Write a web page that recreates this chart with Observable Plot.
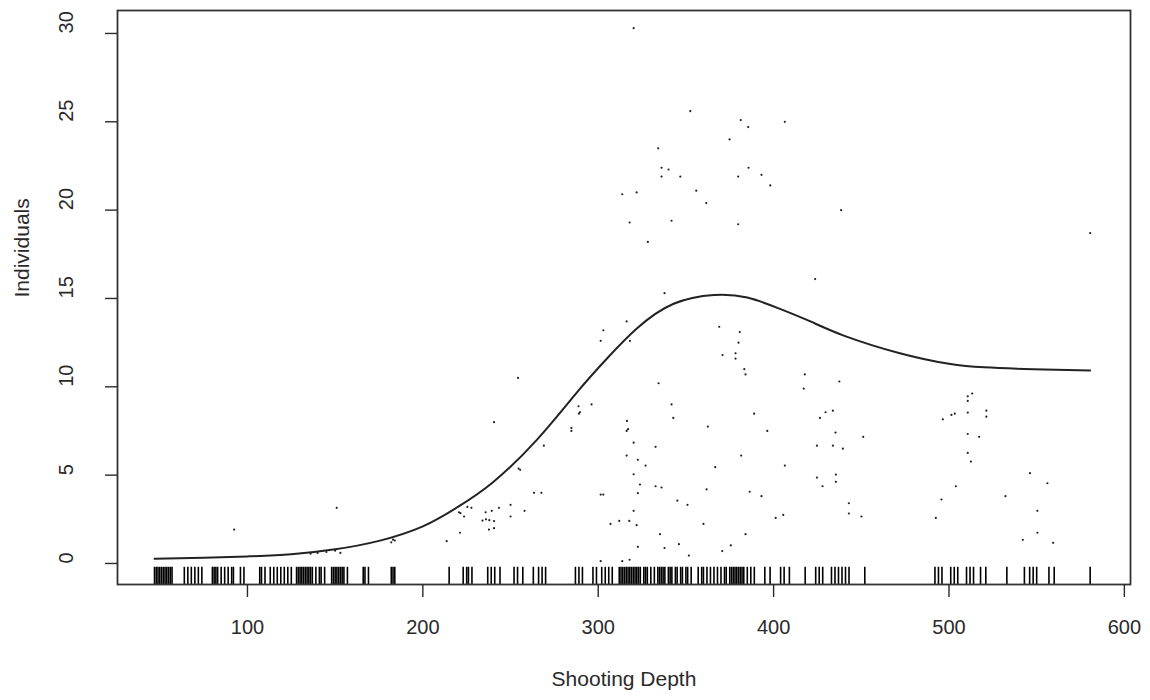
<!DOCTYPE html>
<html>
<head>
<meta charset="utf-8">
<script src="https://cdn.jsdelivr.net/npm/d3@7"></script>
<script src="https://cdn.jsdelivr.net/npm/@observablehq/plot@0.6"></script>
<style>
  html, body { margin: 0; padding: 0; background: #fff; }
  #chart { width: 1150px; height: 700px; }
</style>
</head>
<body>
<div id="chart"></div>
<script>
// Axis ticks and titles
const xTicks = [100, 200, 300, 400, 500, 600];
const yTicks = [0, 5, 10, 15, 20, 25, 30];
const xTitle = "Shooting Depth";
const yTitle = "Individuals";

// Observed points (depth, individuals)
const pointX = [320.2,352.5,381.3,385.5,406.4,374.9,334.2,336.1,340.1,336.1,346.8,379.8,385.7,393.1,398.1,313.7,321.9,355.9,361.6,317.9,341.8,379.8,328.3,438.5,580.5,423.7,337.8,
 316.2,302.9,301.4,318.1,369.0,380.7,380.0,370.9,378.3,378.3,383.3,384.0,417.8,417.2,334.4,437.5,254.3,288.8,289.6,289.0,296.2,341.8,342.8,388.9,284.7,284.7,316.4,316.2,317.0,362.5,396.4,240.6,269.0,320.2,332.7,316.2,322.6,327.0,381.5,366.7,406.4,320.2,323.8,322.6,332.7,336.1,361.8,386.4,393.1,345.1,350.9,301.4,302.9,320.2,307.0,312.0,317.7,321.9,360.0,401.2,405.5,335.2,384.0,322.6,337.8,346.0,351.7,370.7,375.6,301.4,313.7,317.9,
 263.4,267.6,254.6,255.5,258.0,250.0,250.0,243.4,240.6,240.6,237.7,235.8,239.3,234.0,236.0,237.9,225.4,227.7,223.5,220.6,221.4,221.2,213.6,92.4,150.9,182,183,184,136,140,145,150,153,
 426.4,429.6,433.8,435.3,451.1,424.7,433.8,439.5,424.7,427.9,435.5,435.5,442.9,442.9,450.1,496.5,501.4,503.3,510.7,513.2,510.7,510.7,521.3,521.3,510.7,517.2,510.7,512.5,503.9,495.7,492.5,532.2,546.2,556.1,550.4,550.4,542.1,559.4];
const pointY = [30.3,25.6,25.1,24.7,25.0,24.0,23.5,22.4,22.3,21.9,21.9,21.9,22.4,22.0,21.4,20.9,21.0,21.1,20.4,19.3,19.4,19.2,18.2,20.0,18.7,16.1,15.3,
 13.7,13.2,12.6,12.6,13.4,13.1,12.5,11.8,11.9,11.6,11.0,10.7,10.7,9.9,10.2,10.3,10.5,8.9,8.56,8.48,9.0,9.0,8.24,8.48,7.67,7.5,8.07,7.5,7.6,7.75,7.5,8.0,6.67,6.84,6.6,6.11,5.87,5.54,6.11,5.45,5.54,5.05,4.47,3.98,4.37,4.3,4.2,4.06,3.81,3.56,3.32,3.9,3.9,2.98,2.24,2.41,2.41,2.17,2.24,2.58,2.75,1.66,1.66,0.94,0.87,1.09,0.45,0.70,1.02,0.13,0.13,0.21,
 4.0,4.0,5.37,5.3,2.98,3.32,2.66,3.15,2.0,2.4,1.92,2.9,2.98,2.43,2.5,2.45,3.2,3.15,2.66,2.9,2.85,1.74,1.26,1.92,3.15,1.2,1.35,1.3,0.55,0.6,0.65,0.72,0.6,
 8.24,8.56,8.65,7.41,7.17,6.67,6.67,6.5,4.86,4.37,5.03,4.62,3.41,2.83,2.66,8.16,8.41,8.48,9.46,9.62,9.2,8.54,8.65,8.31,7.33,7.17,6.26,5.77,4.37,3.62,2.58,3.81,5.11,4.54,2.98,1.74,1.34,1.17];

// Fitted smooth curve
const curveX = [47, 75, 100, 125, 150, 175, 200, 220, 240, 265, 288, 305, 322, 343, 366, 385, 404, 421, 440, 472, 500, 520, 548, 580.5];
const curveY = [0.27, 0.32, 0.40, 0.52, 0.80, 1.28, 2.1, 3.2, 4.6, 7.0, 9.7, 11.6, 13.3, 14.7, 15.2, 15.05, 14.4, 13.7, 12.9, 11.9, 11.3, 11.1, 11.0, 10.92];

// Rug (all observed depths)
const rugX = [47,48,49,50,51,52,53,54,55,56,57,64,66,68,70,72,74,80,81,82,83,85,87,89,91,92,96,98,107,108,110,113,115,117,119,121,123,125,128,129,130,131,132,133,134,135,136,137,139,141,142,144,148,149,150,151,152,153,154,155,157,166,167,169,182,183,184,
 215,223,225,226,228,237,239,241,244,252,254,257,263,266,268,270,287,289,291,297,299,302,304,306,308,312,313,314,315,316,317,318,319,320,321,322,323,324,326,327,328,330,332,334,335,336,337,338,340,341,342,344,345,347,348,350,351,353,357,359,360,362,364,366,368,370,372,373,375,376,377,378,379,380,381,382,383,385,387,389,395,398,404,406,409,
 418,424,426,428,433,435,437,439,441,443,452,492,494,496,501,503,505,510,512,514,518,521,533,543,546,548,550,557,560,580.5];

const xDomain = [25.9, 603.5];
const yDomain = [-1.19, 31.3];

const points = pointX.map((x, i) => ({x, y: pointY[i]}));
const curve = curveX.map((x, i) => ({x, y: curveY[i]}));
const rugTop = yDomain[0] + 0.03 * (yDomain[1] - yDomain[0]);

const chart = Plot.plot({
  width: 1150,
  height: 700,
  marginLeft: 117,
  marginRight: 20,
  marginTop: 10,
  marginBottom: 116,
  x: {domain: xDomain},
  y: {domain: yDomain},
  style: {fontFamily: "'Liberation Sans', Arial, sans-serif", fontSize: "20px", color: "#2a2a2a", background: "#fff"},
  marks: [
    Plot.ruleX(rugX, {x: d => d, y1: yDomain[0], y2: rugTop, stroke: "#000", strokeWidth: 1.6}),
    Plot.dot(points, {x: "x", y: "y", r: 1.1, fill: "#222", stroke: "none"}),
    Plot.line(curve, {x: "x", y: "y", curve: "natural", stroke: "#222", strokeWidth: 2}),
    Plot.frame({stroke: "#333", strokeWidth: 1.8}),
    Plot.axisX({ticks: xTicks, tickSize: 13, tickPadding: 22, fontSize: 20, label: null, strokeWidth: 1.4}),
    Plot.axisY({ticks: yTicks, tickSize: 12, tickFormat: () => "", label: null, strokeWidth: 1.4}),
    Plot.text(yTicks, {y: d => d, text: d => String(d), frameAnchor: "left", dx: -51, rotate: -90, fontSize: 20, fill: "#2a2a2a"}),
    Plot.text([xTitle], {text: d => d, frameAnchor: "bottom", dy: 101, fontSize: 21, fill: "#2a2a2a"}),
    Plot.text([yTitle], {text: d => d, frameAnchor: "left", dx: -95, rotate: -90, fontSize: 21, fill: "#2a2a2a"})
  ]
});
document.getElementById("chart").appendChild(chart);
</script>
</body>
</html>
